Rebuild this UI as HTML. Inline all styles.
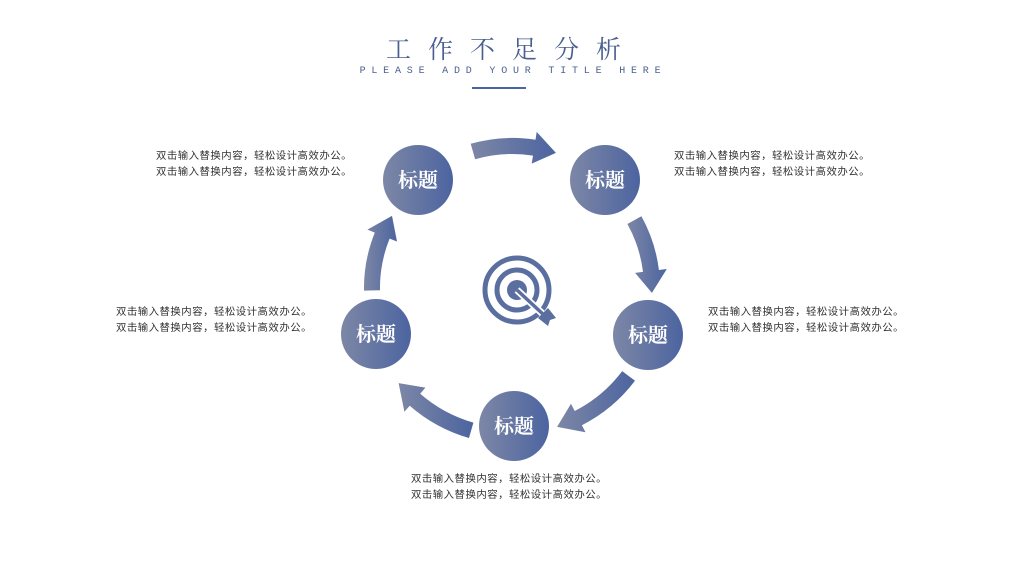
<!DOCTYPE html>
<html><head><meta charset="utf-8"><style>
body{margin:0;width:1024px;height:576px;background:#fff;overflow:hidden;position:relative;font-family:"Liberation Sans","Noto Sans CJK SC",sans-serif}
.t{position:absolute;font-size:10.4px;letter-spacing:0.5px;line-height:16px;color:#333;white-space:nowrap}
.r{text-align:right}
</style></head><body>
<div style="position:absolute;left:0;width:1024px;top:30px;text-align:center;font-family:'Liberation Serif','Noto Serif CJK SC',serif;font-size:25px;letter-spacing:17px;color:#4a5f8f;padding-left:0px;box-sizing:border-box">工作不足分析</div>
<div style="position:absolute;left:0;width:1024px;top:66px;text-align:center;font-family:'Liberation Mono',monospace;font-size:10px;letter-spacing:5.8px;color:#4a5f8f;padding-left:2px;box-sizing:border-box">PLEASE ADD YOUR TITLE HERE</div>
<div style="position:absolute;left:472px;top:87px;width:54px;height:2px;background:#4a66a0"></div>
<div class="t r" style="right:672px;top:149px">双击输入替换内容，轻松设计高效办公。<br>双击输入替换内容，轻松设计高效办公。</div>
<div class="t" style="left:674px;top:149px">双击输入替换内容，轻松设计高效办公。<br>双击输入替换内容，轻松设计高效办公。</div>
<div class="t" style="left:708px;top:305px">双击输入替换内容，轻松设计高效办公。<br>双击输入替换内容，轻松设计高效办公。</div>
<div class="t r" style="right:712px;top:305px">双击输入替换内容，轻松设计高效办公。<br>双击输入替换内容，轻松设计高效办公。</div>
<div class="t" style="left:411px;top:472px">双击输入替换内容，轻松设计高效办公。<br>双击输入替换内容，轻松设计高效办公。</div>
<svg id="s" width="1024" height="576" style="position:absolute;left:0;top:0">
<defs><linearGradient id="g" x1="0" y1="0" x2="1" y2="0"><stop offset="0" stop-color="#7d87a6"/><stop offset="1" stop-color="#4c64a0"/></linearGradient></defs>
<g id="arrows"></g>
<g fill="url(#g)">
<circle cx="418" cy="180" r="35"/><circle cx="605" cy="180" r="35"/><circle cx="648" cy="335" r="35"/><circle cx="514" cy="426" r="35"/><circle cx="376" cy="334" r="35"/>
</g>
<g fill="#fff" font-family="'Liberation Serif','Noto Serif CJK SC',serif" font-size="20" font-weight="bold" text-anchor="middle">
<text x="418" y="187">标题</text><text x="605" y="187">标题</text><text x="648" y="342">标题</text><text x="514" y="433">标题</text><text x="376" y="341">标题</text>
</g>
<g fill="none" stroke="#5a6fa0" stroke-width="5">
<circle cx="517" cy="290" r="32"/><circle cx="517" cy="290" r="20"/>
</g>
<circle cx="517" cy="290" r="10" fill="#5a6fa0"/>
<line x1="517" y1="290" x2="545" y2="316" stroke="#fff" stroke-width="7"/>
<line x1="517" y1="290" x2="545" y2="316" stroke="#5a6fa0" stroke-width="3.5"/>
<path d="M538 318 L548 308 L556 318 L550 320 L548 326 Z" fill="#5a6fa0"/>
</svg>
<script>
var cx=512,cy=288;
var arr=[[-106,-72,142],[-29,2,140],[37,72,146],[106,140,148],[179,211,140]];
var out='';
function P(a,r){a=a*Math.PI/180;return (cx+r*Math.cos(a)).toFixed(1)+','+(cy+r*Math.sin(a)).toFixed(1);}
for(var i=0;i<5;i++){
 var s=arr[i][0],t=arr[i][1],R=arr[i][2],h=t-9,w=8,hw=16;
 var d='M'+P(s,R-w)+' A'+(R-w)+','+(R-w)+' 0 0 1 '+P(h,R-w)+' L'+P(h,R-hw)+' L'+P(t,R)+' L'+P(h,R+hw)+' L'+P(h,R+w)+' A'+(R+w)+','+(R+w)+' 0 0 0 '+P(s,R+w)+' Z';
 out+='<path d="'+d+'" fill="url(#g)"/>';
}
document.getElementById('arrows').innerHTML=out;
</script>
</body></html>
